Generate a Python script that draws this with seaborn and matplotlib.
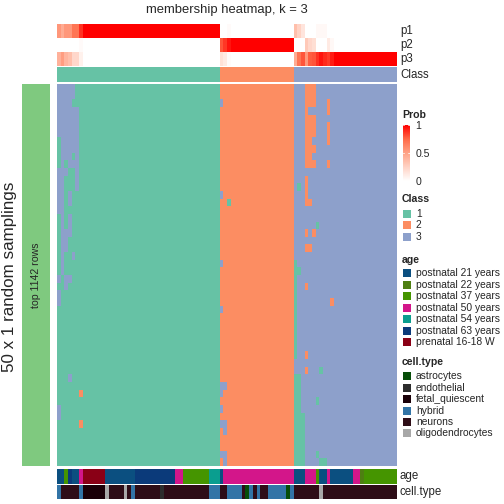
import numpy as np
import matplotlib
matplotlib.use('Agg')
import matplotlib.pyplot as plt
import seaborn as sns
from matplotlib.colors import ListedColormap, LinearSegmentedColormap
from matplotlib.patches import Rectangle
import matplotlib.cm as cm

# membership probabilities of the 92 samples (columns, in plotted order)
p1 = [0.55, 0.45, 0.55, 0.55, 0.70, 0.70, 0.88, 1, 1, 1, 1, 1, 1, 1, 1, 1, 1, 1, 1, 1, 1, 1, 1, 1,
      1, 1, 1, 1, 1, 1, 1, 1, 1, 1, 1, 1, 1, 1, 1, 1, 1, 1, 1, 1,
      0, 0, 0.03, 0, 0, 0, 0, 0, 0, 0, 0, 0, 0, 0, 0, 0, 0, 0, 0, 0,
      0.35, 0.25, 0.15, 0, 0, 0, 0.04, 0.04, 0.04, 0, 0, 0, 0, 0, 0, 0, 0, 0, 0, 0, 0, 0, 0, 0, 0, 0, 0, 0]
p2 = [0, 0, 0, 0, 0, 0, 0.03, 0, 0, 0, 0, 0, 0, 0, 0, 0, 0, 0, 0, 0, 0, 0, 0, 0,
      0, 0, 0, 0, 0, 0, 0, 0, 0, 0, 0, 0, 0, 0, 0, 0, 0, 0, 0, 0,
      0.80, 0.87, 0.95, 1, 1, 1, 1, 1, 1, 1, 1, 1, 1, 1, 1, 1, 1, 1, 1, 1,
      0, 0, 0, 0.30, 0.22, 0.18, 0, 0, 0, 0.12, 0.04, 0, 0, 0, 0, 0, 0, 0, 0, 0, 0, 0, 0, 0, 0, 0, 0, 0]
p3 = [0.42, 0.52, 0.40, 0.35, 0.22, 0.22, 0.08, 0, 0, 0, 0, 0, 0, 0, 0, 0, 0, 0, 0, 0, 0, 0, 0, 0,
      0, 0, 0, 0, 0, 0, 0, 0, 0, 0, 0, 0, 0, 0, 0, 0, 0, 0, 0, 0,
      0.17, 0.12, 0.02, 0, 0, 0, 0, 0, 0, 0, 0, 0, 0, 0, 0, 0, 0, 0, 0, 0,
      0.45, 0.70, 0.80, 0.55, 0.78, 0.80, 0.88, 0.95, 0.90, 0.86, 0.93, 1, 1, 1, 1, 1, 1, 1, 1, 1, 1, 1, 1, 1, 1, 1, 1, 1]

# consensus class of each column
col_class = "11111111111111111111111111111111111111111111" \
            "22222222222222222222" "3333333333333333333333333333"

# class assigned in each of the 50 random samplings (rows)
# blocks: class-1 columns | class-2 columns | class-3 columns
samplings = [
    "3333311 1111111111111111111111111111111111111 22222222222222222222 33322233333 33333333333333333",
    "3333311 1111111111111111111111111111111111111 22222222222222222222 33322233333 33333333333333333",
    "3333111 1111111111111111111111111111111111111 32222222222222222222 33322233323 33333333333333333",
    "3333331 1111111111111111111111111111111111111 22222222222222222222 33323333323 33333333333333333",
    "3333331 1111111111111111111111111111111111111 22222222222222222222 33322233333 33333333333333333",
    "3333331 1111111111111111111111111111111111111 22222222222222222222 33322233323 33333333333333333",
    "3333331 1111111111111111111111111111111111111 22222222222222222222 33322233323 33333333333333333",
    "1333331 1111111111111111111111111111111111111 22222222222222222222 33322333323 33333333333333333",
    "1333331 1111111111111111111111111111111111111 22222222222222222222 33322233333 33333333333333333",
    "1333131 1111111111111111111111111111111111111 22222222222222222222 33322333333 33333333333333333",
    "1313331 1111111111111111111111111111111111111 22222222222222222222 33322233323 33333333333333333",
    "3331131 1111111111111111111111111111111111111 22222222222222222222 33333333333 33333333333333333",
    "3311131 1111111111111111111111111111111111111 22222222222222222222 33323333333 33333333333333333",
    "3311131 1111111111111111111111111111111111111 22222222222222222222 31323333333 33333333333333333",
    "3313111 1111111111111111111111111111111111111 32222222222222222222 33323333333 33333333333333333",
    "3313111 1111111111111111111111111111111111111 22122222222222222222 33322333333 33333333333333333",
    "3311111 1111111111111111111111111111111111111 22222222222222222222 33333333333 33333333333333333",
    "1313111 1111111111111111111111111111111111111 22222222222222222222 33333333333 33333333333333333",
    "1313111 1111111111111111111111111111111111111 22222222222222222222 33333313333 33333333333333333",
    "1333111 1111111111111111111111111111111111111 22222222222222222222 33323233333 33333333333333333",
    "1331111 1111111111111111111111111111111111111 22222222222222222222 33333333333 33333333333333333",
    "1331111 1111111111111111111111111111111111111 22222222222222222222 33322333333 33333333333333333",
    "1311311 1111111111111111111111111111111111111 22222222222222222222 33333333333 33333333333333333",
    "1311111 1111111111111111111111111111111111111 32222222222222222222 13333333333 33333333333333333",
    "1311111 1111111111111111111111111111111111111 22222222222222222222 11333333333 33333333333333333",
    "3133111 1111111111111111111111111111111111111 22222222222222222222 13333333333 33333333333333333",
    "1131111 1111111111111111111111111111111111111 22222222222222222222 13323333333 33333333333333333",
    "3111111 1111111111111111111111111111111111111 22222222222222222222 13333333333 33333333333333333",
    "3111111 1111111111111111111111111111111111111 22222222222222222222 13333333332 33333333333333333",
    "1111111 1111111111111111111111111111111111111 32222222222222222222 13333333333 33333333333333333",
    "1111111 1111111111111111111111111111111111111 22222222222222222222 13333333333 33333333333333333",
    "1111111 1111111111111111111111111111111111111 22222222222222222222 13333333333 33333333333333333",
    "1111111 1111111111111111111111111111111111111 22222222222222222222 13333333333 33333333333333333",
    "1111111 1111111111111111111111111111111111111 22222222222222222222 13333333333 33333333333333333",
    "1111111 1111111111111111111111111111111111111 22222222222222222222 13333333333 33333333333333333",
    "1111111 1111111111111111111111111111111111111 22222222222222222222 13323333333 33333333333333333",
    "1111111 1111111111111111111111111111111111111 22222222222222222222 33333333333 33333333333333333",
    "1111111 1111111111111111111111111111111111111 22222222222222222222 33323331333 33333333333333333",
    "1113111 1111111111111111111111111111111111111 22222222222222222222 11333333333 33333333333333333",
    "1111111 1111111111111111111111111111111111111 33222222222222222222 11333333333 33333333333333333",
    "1111112 1111111111111111111111111111111111111 32222222222222222222 11333333333 33333333333333333",
    "1111111 1111111111111111111111111111111111111 22222222222222222222 11333313333 33333333333333333",
    "3111111 1111111111111111111111111111111111111 32222222222222222222 11333333333 33333333333333333",
    "3111111 1111111111111111111111111111111111111 22222222222222222222 11133333333 33333333333333333",
    "1111112 1111111111111111111111111111111111111 33222222222222222222 11133333333 33333333333333333",
    "1111111 1111111111111111111111111111111111111 23222222222222222222 11133333333 33333333333333333",
    "1111111 1111111111111111111111111111111111111 22222222222222222222 11133333333 33333333333333333",
    "1111111 1111111111111111111111111111111111111 22222222222222222222 11133333333 33333333333333333",
    "1111111 1111111111111111111111111111111111111 33222222222222222222 11133313333 33333333333333333",
    "1111111 1111111111111111111111111111111111111 23222222222222222222 11133331133 33333333333333333",
]

age_levels = ['postnatal 21 years', 'postnatal 22 years', 'postnatal 37 years', 'postnatal 50 years',
              'postnatal 54 years', 'postnatal 63 years', 'prenatal 16-18 W']
age_colors = ['#0B4F80', '#4E7F12', '#459500', '#D3168A', '#0A9E8F', '#0B3A7A', '#8A0016']
age_idx = [0, 0, 2, 5, 0, 0, 3, 6, 6, 6, 6, 6, 6, 0, 0, 0, 0, 0, 0, 0, 0, 5, 5, 5, 5, 5, 5, 5, 5, 5, 5, 5,
           3, 3, 2, 2, 2, 2, 2, 2, 2, 4, 4, 4,
           0, 3, 3, 3, 3, 3, 3, 3, 3, 3, 3, 3, 3, 3, 3, 3, 3, 3, 3, 3,
           0, 0, 0, 3, 3, 3, 2, 0, 0, 3, 0, 0, 0, 0, 0, 0, 3, 3, 1, 2, 2, 2, 2, 2, 2, 2, 2, 2]

cell_levels = ['astrocytes', 'endothelial', 'fetal_quiescent', 'hybrid', 'neurons', 'oligodendrocytes']
cell_colors = ['#064D08', '#2D2D2D', '#1A0008', '#3274A6', '#2E0D17', '#A8A8A8']
cell_idx = [3, 4, 4, 4, 4, 4, 3, 2, 2, 2, 2, 2, 2, 5, 4, 4, 4, 4, 5, 4, 3, 4, 4, 4, 4, 4, 4, 4, 1, 4, 4, 4,
            4, 4, 4, 4, 4, 4, 4, 4, 4, 3, 3, 3,
            4, 4, 3, 3, 3, 3, 4, 0, 3, 4, 3, 4, 4, 3, 3, 3, 3, 3, 0, 3,
            4, 4, 4, 4, 4, 4, 4, 5, 4, 4, 4, 4, 4, 4, 4, 4, 4, 4, 4, 4, 4, 4, 4, 4, 4, 4, 4, 4]

class_levels = ['1', '2', '3']
class_colors = ['#66C2A5', '#FC8D62', '#8DA0CB']

sns.set_style('white')
plt.rcParams['font.family'] = ['Liberation Sans', 'DejaVu Sans']

W = 504.0
fig = plt.figure(figsize=(7, 7), dpi=72)


def px_axes(x0, y0, x1, y1):
    return fig.add_axes([x0 / W, 1 - y1 / W, (x1 - x0) / W, (y1 - y0) / W])


def fx(x):
    return x / W


def fy(y):
    return 1 - y / W


prob_cmap = LinearSegmentedColormap.from_list(
    'prob', [(0, '#FFFFFF'), (0.25, '#FFD2C4'), (0.5, '#FFA286'), (0.75, '#FF6A48'), (1, '#FF0000')])
class_cmap = ListedColormap(class_colors)

mat = np.array([[int(ch) for ch in r.replace(' ', '')] for r in samplings])
cls_row = np.array([[int(ch) for ch in col_class]])

heat_kw = dict(cbar=False, xticklabels=False, yticklabels=False)

ax_p = px_axes(57, 24, 397, 66)
sns.heatmap(np.array([p1, p2, p3]), cmap=prob_cmap, vmin=0, vmax=1, ax=ax_p, **heat_kw)

ax_cls = px_axes(57, 67, 397, 82)
sns.heatmap(cls_row, cmap=class_cmap, vmin=0.5, vmax=3.5, ax=ax_cls, **heat_kw)

ax_main = px_axes(57, 84, 397, 466)
sns.heatmap(mat, cmap=class_cmap, vmin=0.5, vmax=3.5, ax=ax_main, **heat_kw)

ax_age = px_axes(57, 469, 397, 483.5)
sns.heatmap(np.array([age_idx]), cmap=ListedColormap(age_colors), vmin=-0.5, vmax=6.5, ax=ax_age, **heat_kw)

ax_cell = px_axes(57, 484.5, 397, 499)
sns.heatmap(np.array([cell_idx]), cmap=ListedColormap(cell_colors), vmin=-0.5, vmax=5.5, ax=ax_cell, **heat_kw)

for a in [ax_p, ax_cls, ax_main, ax_age, ax_cell]:
    a.set_xlabel('')
    a.set_ylabel('')

# row split bar on the left
ax_bar = px_axes(22, 84, 50, 466)
ax_bar.set_facecolor('#7FC97F')
ax_bar.set_xticks([])
ax_bar.set_yticks([])
for s in ax_bar.spines.values():
    s.set_visible(False)
ax_bar.text(0.5, 0.5, 'top 1142 rows', rotation=90, ha='center', va='center',
            fontsize=10.5, transform=ax_bar.transAxes)

fig.text(fx(227), fy(10), 'membership heatmap, k = 3', ha='center', va='center', fontsize=13)
fig.text(fx(10), fy(277), '50 x 1 random samplings', rotation=90, ha='center', va='center', fontsize=17)

# annotation names
for name, y in [('p1', 31), ('p2', 45), ('p3', 59), ('Class', 74.5), ('age', 476), ('cell.type', 492)]:
    fig.text(fx(400), fy(y), name, ha='left', va='center', fontsize=11.5)

# Prob colour bar
ax_cb = px_axes(402.5, 125, 409.5, 181)
cb = fig.colorbar(cm.ScalarMappable(cmap=prob_cmap, norm=plt.Normalize(0, 1)), cax=ax_cb)
cb.outline.set_visible(False)
cb.set_ticks([0, 0.5, 1])
cb.set_ticklabels(['0', '0.5', '1'])
cb.ax.tick_params(length=0, pad=6, labelsize=10.5)
for v in [0.5, 1]:
    ax_cb.axhline(v, xmin=0, xmax=0.25, color='white', lw=0.8)
    ax_cb.axhline(v, xmin=0.75, xmax=1, color='white', lw=0.8)
fig.text(fx(402), fy(115), 'Prob', ha='left', va='center', fontsize=10.5, fontweight='bold')


def draw_legend(title, ty, labels, colors, y0, step):
    fig.text(fx(402), fy(ty), title, ha='left', va='center', fontsize=10.5, fontweight='bold')
    for i, (lab, col) in enumerate(zip(labels, colors)):
        yc = y0 + i * step
        fig.add_artist(Rectangle((fx(403), fy(yc + 4)), 7.5 / W, 8 / W, facecolor=col,
                                 edgecolor='none', transform=fig.transFigure))
        fig.text(fx(416), fy(yc), lab, ha='left', va='center', fontsize=10.3)


draw_legend('Class', 199, class_levels, class_colors, 214, 11.5)
draw_legend('age', 260, age_levels, age_colors, 273.3, 11.45)
draw_legend('cell.type', 361.7, cell_levels, cell_colors, 376.3, 11.4)

plt.savefig('out.png', dpi=72)
